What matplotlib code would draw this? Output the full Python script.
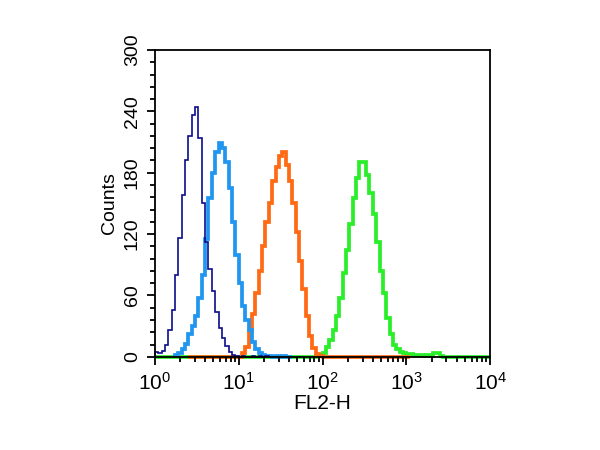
import matplotlib
matplotlib.use('Agg')
import matplotlib.pyplot as plt
from matplotlib.ticker import MultipleLocator, LogLocator
import numpy as np

plt.rcParams['font.family'] = ['Liberation Sans', 'DejaVu Sans']

# histogram channels: 25 bins per decade, 1 .. 1e4
bins_per_decade = 25
n_bins = 100

# each series: first bin index + counts per bin
navy_start = 0
navy_counts = [5, 4, 6, 12, 26, 46, 80, 116, 158, 192, 216, 236, 244, 214, 150,
               112, 86, 64, 44, 28, 18, 11, 5, 2, 1, 0, 1, 0, 0, 1, 0, 1, 0, 1]

blue_start = 6
blue_counts = [2, 4, 8, 13, 22, 30, 40, 58, 80, 115, 155, 180, 200, 209, 204,
               190, 165, 132, 100, 72, 50, 36, 26, 15, 8, 4, 2, 1, 1, 0, 1, 0, 1, 0, 0]

orange_start = 10
orange_counts = [0] * 16 + [4, 10, 25, 42, 62, 84, 108, 132, 150, 172, 186, 196,
                            200, 188, 172, 150, 122, 94, 66, 40, 20, 9, 3, 1] + [0] * 26

green_start = 0
green_counts = [0] * 48 + [1, 2, 4, 10, 16, 26, 40, 58, 82, 104, 130, 155, 175,
                           190, 190, 178, 160, 140, 112, 84, 62, 38, 22, 12, 8, 5,
                           4, 3, 3, 2, 2, 2, 1, 2, 1, 4, 4, 1] + [0] * 14

series = [
    (green_start, green_counts, '#2aee2a', 2.7),
    (orange_start, orange_counts, '#ff6a14', 2.7),
    (blue_start, blue_counts, '#2196f0', 2.7),
    (navy_start, navy_counts, '#0c0c8c', 1.2),
]

fig = plt.figure(figsize=(6, 4.5), dpi=100)
ax = fig.add_axes([0.258, 0.207, 0.559, 0.682])

edges_all = 10 ** (np.arange(n_bins + 1) / bins_per_decade)
for start, counts, color, lw in series:
    edges = edges_all[start:start + len(counts) + 1]
    ax.stairs(counts, edges, color=color, linewidth=lw, clip_on=False)

ax.set_xscale('log')
ax.set_xlim(1, 1e4)
ax.set_ylim(0, 300)
ax.yaxis.set_major_locator(MultipleLocator(60))
ax.yaxis.set_minor_locator(MultipleLocator(12))
ax.xaxis.set_major_locator(LogLocator(base=10, numticks=10))
ax.xaxis.set_minor_locator(LogLocator(base=10, subs=np.arange(2, 10), numticks=20))

ax.tick_params(which='both', direction='out', width=1.3, top=False, right=False)
ax.tick_params(which='major', length=6)
ax.tick_params(which='minor', length=3.5)
ax.tick_params(axis='x', labelsize=15, pad=5)
ax.tick_params(axis='y', labelsize=14, pad=4)
for lab in ax.get_yticklabels():
    lab.set_rotation(90)
    lab.set_va('center')
for s in ax.spines.values():
    s.set_linewidth(1.3)

ax.set_xlabel('FL2-H', fontsize=15, labelpad=0)
ax.set_ylabel('Counts', fontsize=14, labelpad=4)

plt.savefig('out.png', dpi=100)
plt.close()
